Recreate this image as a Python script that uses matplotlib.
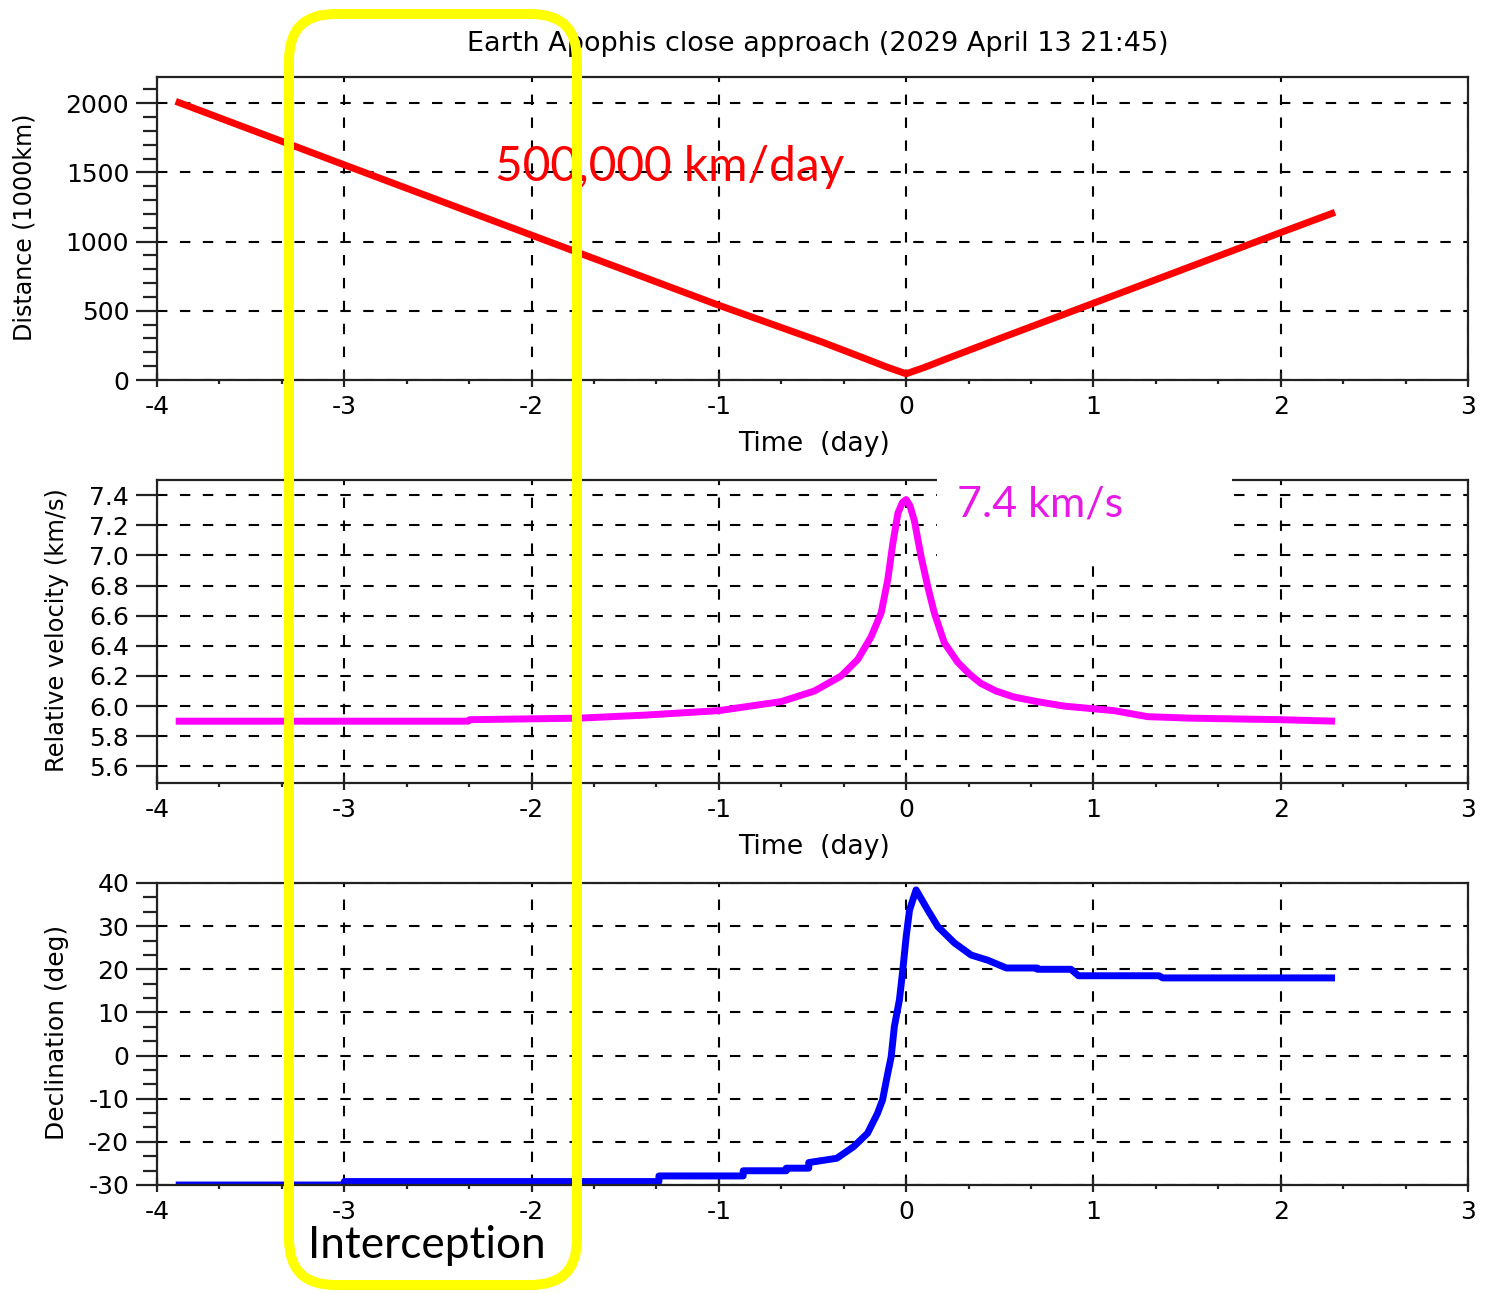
import matplotlib
matplotlib.use("Agg")
import matplotlib.pyplot as plt
from matplotlib.patches import FancyBboxPatch, Rectangle
from matplotlib.transforms import Affine2D
from matplotlib.ticker import MultipleLocator

# ---------------- data ----------------
title = "Earth Apophis close approach (2029 April 13 21:45)"
xlabel = "Time  (day)"
ylabels = ["Distance (1000km)", "Relative velocity (km/s)", "Declination (deg)"]

dist_t = [-3.9, -3.0, -2.0, -1.0, -0.45, -0.2, -0.1, 0.0, 0.1, 0.2, 0.5, 1.0, 2.0, 2.29]
dist_v = [2014, 1555, 1047, 540, 275, 145, 92, 45, 92, 145, 300, 555, 1066, 1212]

vel_t = [-3.9, -2.34, -2.33, -1.75, -1.4, -1.0, -0.667, -0.49, -0.347, -0.258, -0.187,
         -0.133, -0.098, -0.071, -0.044, -0.02, 0.0, 0.02, 0.044, 0.08, 0.116, 0.15,
         0.204, 0.276, 0.34, 0.40, 0.48, 0.577, 0.70, 0.845, 1.11, 1.29, 1.52, 2.0, 2.29]
vel_v = [5.90, 5.90, 5.91, 5.92, 5.94, 5.97, 6.03, 6.10, 6.20, 6.31, 6.46,
         6.62, 6.84, 7.08, 7.28, 7.35, 7.37, 7.33, 7.23, 6.99, 6.79, 6.62,
         6.42, 6.29, 6.21, 6.15, 6.10, 6.06, 6.03, 6.00, 5.97, 5.93, 5.92, 5.91, 5.90]

dec_t = [-3.9, -3.0, -3.0, -1.32, -1.32, -0.87, -0.87, -0.64, -0.64, -0.52, -0.52, -0.37,
         -0.28, -0.206, -0.153, -0.126, -0.1, -0.08, -0.063, -0.036, -0.018, 0.0, 0.018,
         0.053, 0.116, 0.169, 0.258, 0.347, 0.436, 0.535, 0.70, 0.70, 0.88, 0.92, 1.35,
         1.37, 2.29]
dec_v = [-30, -30, -29.2, -29.2, -27.9, -27.9, -26.7, -26.7, -26.1, -26.1, -24.8, -23.8,
         -21.1, -18.0, -13.4, -10.3, -4.5, -0.3, 6.7, 12.9, 19.8, 27.5, 33.7,
         38.4, 33.7, 29.9, 26.1, 23.3, 22.1, 20.3, 20.3, 20.0, 20.0, 18.5, 18.5,
         18.0, 18.0]

x_ticks = [-4, -3, -2, -1, 0, 1, 2, 3]
dist_ticks = [0, 500, 1000, 1500, 2000]
vel_ticks = [5.6, 5.8, 6.0, 6.2, 6.4, 6.6, 6.8, 7.0, 7.2, 7.4]
dec_ticks = [-30, -20, -10, 0, 10, 20, 30, 40]

note_speed = "500,000 km/day"
note_vel = "7.4 km/s"
note_box = "Interception"

# ---------------- figure ----------------
W, H = 1488, 1293
plt.rcParams['font.family'] = ['DejaVu Sans']
plt.rcParams['lines.scale_dashes'] = False
plt.rcParams['axes.unicode_minus'] = False
fig = plt.figure(figsize=(W / 100, H / 100), dpi=100)
fig.patch.set_facecolor('white')

def fx(x):
    return x / W

def fy(y):
    return 1 - y / H

def add_axes(top, bottom):
    left, right = 157, 1468
    return fig.add_axes([fx(left), fy(bottom), (right - left) / W, (bottom - top) / H])

ax1 = add_axes(77, 380)
ax2 = add_axes(480, 783)
ax3 = add_axes(883, 1185)

ax1.plot(dist_t, dist_v, color='#FF0000', lw=5.0, solid_capstyle='butt', zorder=3)
ax2.plot(vel_t, vel_v, color='#FF00FF', lw=5.0, solid_capstyle='butt', zorder=3)
ax3.plot(dec_t, dec_v, color='#0000FF', lw=5.0, solid_capstyle='butt', zorder=3)

ax1.set_ylim(0, 2190)
ax1.set_yticks(dist_ticks)
ax1.yaxis.set_minor_locator(MultipleLocator(100))
ax2.set_ylim(5.49, 7.5)
ax2.set_yticks(vel_ticks)
ax2.set_yticklabels([f"{v:.1f}" for v in vel_ticks])
ax3.set_ylim(-30, 40)
ax3.set_yticks(dec_ticks)
ax3.yaxis.set_minor_locator(MultipleLocator(10 / 3))

for ax in (ax1, ax2, ax3):
    ax.set_xlim(-4, 3)
    ax.set_xticks(x_ticks)
    ax.xaxis.set_minor_locator(MultipleLocator(1 / 3))
    ax.grid(True, which='major', color='black', lw=1.5, linestyle=(0, (7.5, 9.0)))
    ax.set_axisbelow(True)
    for s in ax.spines.values():
        s.set_linewidth(1.6)
        s.set_color('#222222')
        s.set_zorder(4)
    ax.tick_params(axis='y', which='major', direction='out', length=15, width=1.6,
                   pad=5, labelsize=18, color='#222222')
    ax.tick_params(axis='y', which='minor', direction='out', length=10, width=1.6,
                   color='#222222')
    ax.tick_params(axis='x', which='major', direction='inout', length=10, width=1.6,
                   pad=6, labelsize=18, color='#222222')
    ax.tick_params(axis='x', which='minor', direction='out', length=3, width=1.6,
                   color='#222222')
    ax.set_facecolor('white')

renderer = fig.canvas.get_renderer()

def fit_text(t, target, rotated=False):
    bb = t.get_window_extent(renderer)
    cur = bb.height if rotated else bb.width
    t.set_fontsize(t.get_fontsize() * target / cur)

t_title = fig.text(fx(818), fy(44), title, ha='center', va='center', fontsize=15, color='black')
fit_text(t_title, 701)

t_xl1 = fig.text(fx(814), fy(444), xlabel, ha='center', va='center', fontsize=15, color='black')
fit_text(t_xl1, 152)
t_xl2 = fig.text(fx(814), fy(847), xlabel, ha='center', va='center', fontsize=t_xl1.get_fontsize(),
                 color='black')

yl_specs = [(25, 227, 227), (57, 630, 284), (57, 1032, 215)]
for lab, (cx, cy, ln) in zip(ylabels, yl_specs):
    t = fig.text(fx(cx), fy(cy), lab, ha='center', va='center', rotation=90, fontsize=15,
                 color='black')
    fit_text(t, ln, rotated=True)

# white box behind the velocity note
fig.add_artist(Rectangle((fx(937), fy(563)), (1232 - 937) / W, (563 - 468) / H,
                         transform=fig.transFigure, facecolor='white', edgecolor='none',
                         zorder=5))

t_speed = fig.text(fx(670), fy(167), note_speed, ha='center', va='center', fontsize=30,
                   color='#FF0000', family=['Lato', 'DejaVu Sans'], zorder=6)
fit_text(t_speed, 350)
t_vel = fig.text(fx(1040), fy(505), note_vel, ha='center', va='center', fontsize=30,
                 color='#E619E6', family=['Lato', 'DejaVu Sans'], zorder=6)
fit_text(t_vel, 166)
t_int = fig.text(fx(427), fy(1245), note_box, ha='center', va='center', fontsize=30,
                 color='black', family=['Lato', 'DejaVu Sans'], zorder=6)
fit_text(t_int, 237)

# yellow rounded frame (pixel coordinates, origin bottom-left)
pix = Affine2D().scale(1 / W, 1 / H) + fig.transFigure
frame = FancyBboxPatch((289, H - 1285), 288, 1271,
                       boxstyle="round,pad=0,rounding_size=46",
                       transform=pix, fill=False, edgecolor='#FFFF00', lw=7.2,
                       zorder=10, clip_on=False)
fig.add_artist(frame)

fig.savefig("out.png", dpi=100, facecolor='white')
